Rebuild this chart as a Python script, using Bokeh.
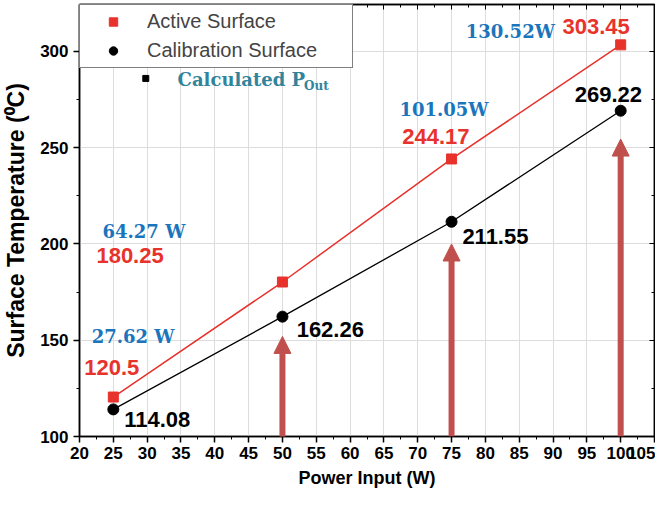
from bokeh.plotting import figure
from bokeh.models import (Range1d, LinearAxis, SingleIntervalTicker, Arrow, NormalHead,
                          Legend, LegendItem)
from bokeh.core.properties import value
from bokeh.embed import file_html
from bokeh.resources import INLINE

# ---- data ----
power = [25, 50, 75, 100]
active = [120.5, 180.25, 244.17, 303.45]
calib = [114.08, 162.26, 211.55, 269.22]
p_out = ["27.62 W", "64.27 W", "101.05W", "130.52W"]
active_txt = ["120.5", "180.25", "244.17", "303.45"]
calib_txt = ["114.08", "162.26", "211.55", "269.22"]
arrow_x = [50, 75, 100]
arrow_start = [96, 100, 100]
arrow_end = [152, 200, 254.5]

# label anchors (left edge, vertical middle) in data units
active_lx = [20.7, 22.5, 67.7, 91.4]
active_ly = [135.8, 194.0, 256.0, 313.0]
calib_lx = [26.6, 52.1, 76.6, 93.2]
calib_ly = [108.8, 155.6, 203.9, 277.7]
pout_lx = [21.8, 23.4, 67.3, 77.1]
pout_ly = [151.9, 206.5, 269.9, 310.4]

RED = "#e8322c"
BLUE = "#1b75bc"
TEAL = "#31849b"
ARROW = "#c0504d"

p = figure(width=655, height=492, output_backend="svg", toolbar_location=None,
           x_range=Range1d(20, 105), y_range=Range1d(100, 324.4),
           min_border_left=79, min_border_right=1, min_border_top=4, min_border_bottom=56)
p.background_fill_color = "white"
p.border_fill_color = "white"
p.outline_line_color = "black"
p.outline_line_width = 1.5

xt = SingleIntervalTicker(interval=5, num_minor_ticks=2)
yt = SingleIntervalTicker(interval=50, num_minor_ticks=2)
p.xaxis.ticker = xt
p.yaxis.ticker = yt
p.xgrid.ticker = xt
p.ygrid.ticker = yt
p.xgrid.grid_line_color = "#dddddd"
p.ygrid.grid_line_color = "#dddddd"

for ax in (p.xaxis[0], p.yaxis[0]):
    ax.axis_line_color = "black"
    ax.axis_line_width = 1.5
    ax.major_tick_line_color = "black"
    ax.major_tick_line_width = 1.5
    ax.minor_tick_line_color = "black"
    ax.major_tick_out = 6
    ax.major_tick_in = 0
    ax.minor_tick_out = 3
    ax.minor_tick_in = 0
    ax.major_label_text_font = "Liberation Sans"
    ax.major_label_text_font_style = "bold"
    ax.major_label_text_font_size = "17px"
    ax.major_label_text_color = "black"
    ax.axis_label_text_font = "Liberation Sans"
    ax.axis_label_text_font_style = "bold"
    ax.axis_label_text_color = "black"

p.xaxis.major_label_standoff = 4
p.xaxis.axis_label = "Power Input (W)"
p.xaxis.axis_label_text_font_size = "18px"
p.xaxis.axis_label_standoff = 6
p.yaxis.axis_label = "Surface Temperature (⁰C)"
p.yaxis.axis_label_text_font_size = "23px"
p.yaxis.axis_label_standoff = 8

# mirrored inward ticks on top and right
for loc, tk in (("above", xt), ("right", yt)):
    ax = LinearAxis(ticker=tk)
    ax.axis_line_color = "black"
    ax.axis_line_width = 1.5
    ax.major_tick_in = 5
    ax.major_tick_out = 0
    ax.minor_tick_in = 3
    ax.minor_tick_out = 0
    ax.major_tick_line_color = "black"
    ax.minor_tick_line_color = "black"
    ax.major_label_text_color = None
    ax.major_label_text_font_size = "1px"
    ax.major_label_standoff = 0
    p.add_layout(ax, loc)

# lines and markers
p.line(power, active, line_color=RED, line_width=1.5)
p.line(power, calib, line_color="black", line_width=1.3)
r_act = p.scatter(power, active, marker="square", size=10, fill_color=RED, line_color=RED)
r_cal = p.scatter(power, calib, marker="circle", size=11, fill_color="black", line_color="black")

# arrows
for xa, ys, ye in zip(arrow_x, arrow_start, arrow_end):
    p.add_layout(Arrow(x_start=xa, y_start=ys, x_end=xa, y_end=ye,
                       line_color=ARROW, line_width=6,
                       end=NormalHead(size=17, fill_color=ARROW, line_color=ARROW, line_width=1)))

# value labels
p.text(active_lx, active_ly, text=active_txt, text_color=RED, text_font=value("Liberation Sans"),
       text_font_style="bold", text_font_size="22px", text_baseline="middle", text_align="left")
p.text(calib_lx, calib_ly, text=calib_txt, text_color="black", text_font=value("Liberation Sans"),
       text_font_style="bold", text_font_size="22px", text_baseline="middle", text_align="left")
p.text(pout_lx, pout_ly, text=p_out, text_color=BLUE, text_font=value("DejaVu Serif"),
       text_font_style="bold", text_font_size="18px", text_baseline="middle", text_align="left")

# "Calculated P_Out" key entry
p.scatter([29.8], [286], marker="square", size=6, fill_color="black", line_color="black")
p.text([34.5], [285.5], text=["Calculated P"], text_color=TEAL, text_font=value("DejaVu Serif"),
       text_font_style="bold", text_font_size="18px", text_baseline="middle", text_align="left")
p.text([53.2], [282.0], text=["Out"], text_color=TEAL, text_font=value("DejaVu Serif"),
       text_font_style="bold", text_font_size="12px", text_baseline="middle", text_align="left")

legend = Legend(items=[LegendItem(label="Active Surface", renderers=[r_act]),
                       LegendItem(label="Calibration Surface", renderers=[r_cal])],
                location="top_left", margin=0, padding=5, spacing=6,
                glyph_width=56, glyph_height=21, label_height=21, label_standoff=6,
                label_width=200,
                label_text_font="Liberation Sans", label_text_font_size="20px",
                border_line_color="black", border_line_width=1.2,
                background_fill_color="white", background_fill_alpha=1)
p.add_layout(legend)

open("out.html", "w").write(file_html(p, INLINE))
